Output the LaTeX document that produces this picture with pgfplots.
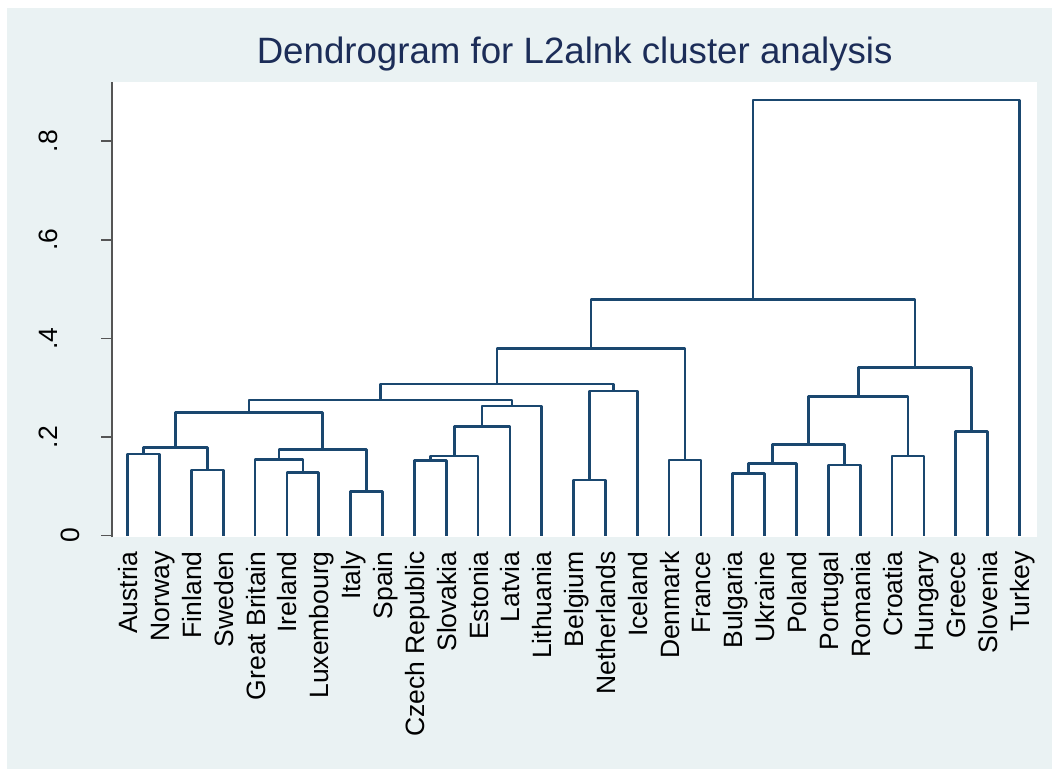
\documentclass[border=0pt]{standalone}
\usepackage{pgfplots}
\pgfplotsset{compat=1.18}
\usepackage{fontspec}
\setmainfont{Liberation Sans}
\definecolor{bgc}{RGB}{234,242,243}
\definecolor{navy}{RGB}{26,71,111}
\definecolor{dknavy}{RGB}{28,45,88}
\definecolor{axc}{RGB}{85,85,85}
\newcommand\lab[1]{\raisebox{-10bp}{#1}}
\pgfplotsset{dend/.style={draw=navy, solid, line width=2.7bp, line join=round, mark=none}}
\begin{document}
\begin{tikzpicture}[x=1bp,y=1bp]
\useasboundingbox (0,0) rectangle (1052,769);
\fill[white] (0,0) rectangle (1052,769);
\fill[bgc] (7,0) rectangle (1052,761);
\begin{axis}[
  at={(112bp,231.7bp)}, anchor=south west,
  scale only axis, width=925.3bp, height=455.3bp,
  xmin=0.507, xmax=29.56, ymin=-0.0034, ymax=0.920,
  axis background/.style={fill=white},
  axis x line*=bottom, axis y line*=left,
  x axis line style={draw=none},
  y axis line style={draw=axc, line width=1.5bp},
  title={Dendrogram for L2alnk cluster analysis},
  title style={at={(0.5,1)}, anchor=base, yshift=12.5bp, inner sep=0pt,
    font=\fontsize{36.8}{40}\selectfont, text=dknavy},
  xtick={1,...,29},
  xticklabels={\lab{Austria},\lab{Norway},\lab{Finland},\lab{Sweden},\lab{Great Britain},\lab{Ireland},\lab{Luxembourg},\lab{Italy},\lab{Spain},\lab{Czech Republic},\lab{Slovakia},\lab{Estonia},\lab{Latvia},\lab{Lithuania},\lab{Belgium},\lab{Netherlands},\lab{Iceland},\lab{Denmark},\lab{France},\lab{Bulgaria},\lab{Ukraine},\lab{Poland},\lab{Portugal},\lab{Romania},\lab{Croatia},\lab{Hungary},\lab{Greece},\lab{Slovenia},\lab{Turkey}},
  xtick style={draw=none},
  xticklabel style={font=\fontsize{26.6}{30}\selectfont, rotate=90, anchor=base east, inner sep=0pt},
  xticklabel shift=3.2bp,
  ytick={0,0.2,0.4,0.6,0.8},
  yticklabels={\raisebox{-22bp}{0},.2,.4,.6,.8},
  ytick style={draw=axc, line width=1.5bp},
  tick align=outside, major tick length=10.7bp,
  yticklabel style={font=\fontsize{26.6}{30}\selectfont, rotate=90, anchor=base, inner sep=0pt},
  yticklabel shift=44bp,
]
% A Austria-Norway
\addplot[dend] coordinates {(1,0)(1,.1655)(2,.1655)(2,0)};
% B Finland-Sweden
\addplot[dend] coordinates {(3,0)(3,.1331)(4,.1331)(4,0)};
% C
\addplot[dend] coordinates {(1.5,.1655)(1.5,.1791)(3.5,.1791)(3.5,.1331)};
% D Ireland-Luxembourg
\addplot[dend] coordinates {(6,0)(6,.1276)(7,.1276)(7,0)};
% E GB + D
\addplot[dend] coordinates {(5,0)(5,.1548)(6.5,.1548)(6.5,.1276)};
% F Italy-Spain
\addplot[dend] coordinates {(8,0)(8,.0890)(9,.0890)(9,0)};
% G
\addplot[dend] coordinates {(5.75,.1548)(5.75,.1751)(8.5,.1751)(8.5,.0890)};
% H
\addplot[dend] coordinates {(2.5,.1791)(2.5,.2493)(7.125,.2493)(7.125,.1751)};
% I Czech-Slovakia
\addplot[dend] coordinates {(10,0)(10,.1519)(11,.1519)(11,0)};
% J + Estonia
\addplot[dend] coordinates {(10.5,.1519)(10.5,.1615)(12,.1615)(12,0)};
% K + Latvia
\addplot[dend] coordinates {(11.25,.1615)(11.25,.2209)(13,.2209)(13,0)};
% L + Lithuania
\addplot[dend] coordinates {(12.125,.2209)(12.125,.2629)(14,.2629)(14,0)};
% M
\addplot[dend] coordinates {(4.8125,.2493)(4.8125,.2751)(13.0625,.2751)(13.0625,.2629)};
% N Belgium-Netherlands
\addplot[dend] coordinates {(15,0)(15,.1128)(16,.1128)(16,0)};
% O + Iceland
\addplot[dend] coordinates {(15.5,.1128)(15.5,.2933)(17,.2933)(17,0)};
% P
\addplot[dend] coordinates {(8.9375,.2751)(8.9375,.3075)(16.25,.3075)(16.25,.2933)};
% Q Denmark-France
\addplot[dend] coordinates {(18,0)(18,.1533)(19,.1533)(19,0)};
% R
\addplot[dend] coordinates {(12.59375,.3075)(12.59375,.3791)(18.5,.3791)(18.5,.1533)};
% S Bulgaria-Ukraine
\addplot[dend] coordinates {(20,0)(20,.1264)(21,.1264)(21,0)};
% T + Poland
\addplot[dend] coordinates {(20.5,.1264)(20.5,.1467)(22,.1467)(22,0)};
% U Portugal-Romania
\addplot[dend] coordinates {(23,0)(23,.1432)(24,.1432)(24,0)};
% V
\addplot[dend] coordinates {(21.25,.1467)(21.25,.1852)(23.5,.1852)(23.5,.1432)};
% W Croatia-Hungary
\addplot[dend] coordinates {(25,0)(25,.1615)(26,.1615)(26,0)};
% X
\addplot[dend] coordinates {(22.375,.1852)(22.375,.2817)(25.5,.2817)(25.5,.1615)};
% Y Greece-Slovenia
\addplot[dend] coordinates {(27,0)(27,.2108)(28,.2108)(28,0)};
% Z
\addplot[dend] coordinates {(23.9375,.2817)(23.9375,.3406)(27.5,.3406)(27.5,.2108)};
% AA
\addplot[dend] coordinates {(15.546875,.3791)(15.546875,.4793)(25.71875,.4793)(25.71875,.3406)};
% Top + Turkey
\addplot[dend] coordinates {(20.6328125,.4793)(20.6328125,.8836)(29,.8836)(29,0)};
\end{axis}
\end{tikzpicture}
\end{document}
